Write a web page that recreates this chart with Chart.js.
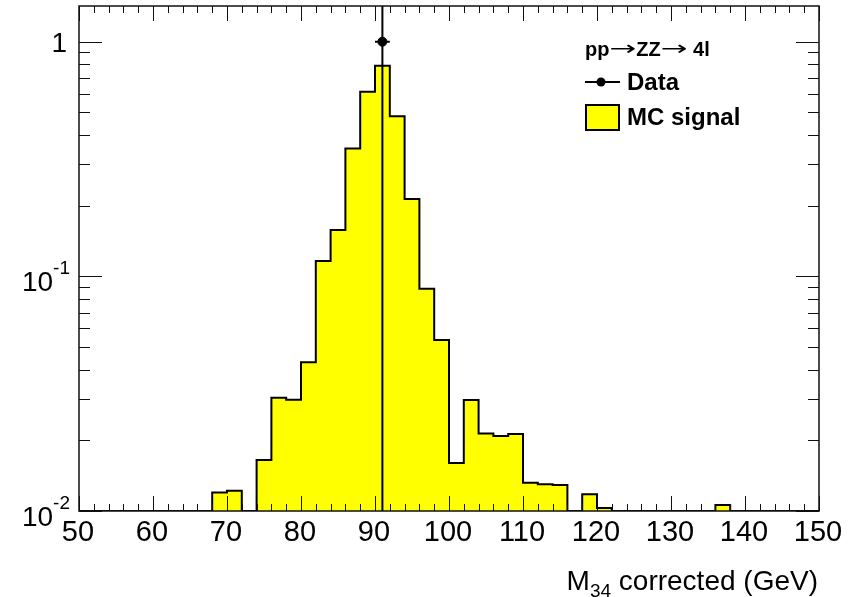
<!DOCTYPE html>
<html>
<head>
<meta charset="utf-8">
<title>M34 corrected</title>
<script src="https://cdn.jsdelivr.net/npm/chart.js@4.4.1/dist/chart.umd.min.js"></script>
<style>
  html, body { margin: 0; padding: 0; background: #fff; }
</style>
</head>
<body>
<canvas id="chart" width="858" height="597"></canvas>
<script>
  // histogram bin edges, 2 GeV wide (GeV)
  var binEdges = [50, 52, 54, 56, 58, 60, 62, 64, 66, 68,
                  70, 72, 74, 76, 78, 80, 82, 84, 86, 88,
                  90, 92, 94, 96, 98, 100, 102, 104, 106, 108,
                  110, 112, 114, 116, 118, 120, 122, 124, 126, 128,
                  130, 132, 134, 136, 138, 140, 142, 144, 146, 148, 150];
  // MC signal content per bin (0 = empty)
  var mcValues = [0, 0, 0, 0, 0, 0, 0, 0, 0, 0.0120,
                  0.0122, 0, 0.0165, 0.0304, 0.0298, 0.0431, 0.1162, 0.1576, 0.351, 0.612,
                  0.790, 0.481, 0.2136, 0.0886, 0.0535, 0.0160, 0.0297, 0.0214, 0.0209, 0.0213,
                  0.0132, 0.0130, 0.0129, 0, 0.0118, 0.0103, 0, 0, 0, 0,
                  0, 0, 0, 0.0106, 0, 0, 0, 0, 0, 0];
  // data point with its errors
  var dataX = [91];
  var dataY = [1];
  var dataErrX = [1];
  var dataErrLow = [1];
  var dataErrHigh = [1];

  var xTickLabels = ["50", "60", "70", "80", "90", "100", "110", "120", "130", "140", "150"];
  var yTickValues = [1, 0.1, 0.01];
  var yTickBase = ["1", "10", "10"];
  var yTickExp = ["", "-1", "-2"];

  // legend title pieces: [text, is it a symbol]
  var legendTitle = [["pp", false], ["\u2192", true], ["ZZ", false], ["\u2192", true], [" 4l", false]];
  var xMin = 50, xMax = 150, yMin = 0.01, yMax = 1.42;

  var FONT = "'Liberation Sans', Arial, Helvetica, sans-serif";

  // step points for the histogram: value of a bin holds from its low edge to the next edge
  var histPoints = [];
  for (var i = 0; i < mcValues.length; i++) {
    histPoints.push({x: binEdges[i], y: Math.max(mcValues[i], yMin)});
  }
  histPoints.push({x: binEdges[binEdges.length - 1], y: Math.max(mcValues[mcValues.length - 1], yMin)});

  var dataPoints = dataX.map(function (x, k) { return {x: x, y: dataY[k]}; });

  // ROOT-like frame, inward ticks, labels, error bars and legend
  var rootStyle = {
    id: "rootStyle",
    afterDatasetsDraw: function (chart) {
      var ctx = chart.ctx, xs = chart.scales.x, ys = chart.scales.y, a = chart.chartArea;
      ctx.save();
      ctx.strokeStyle = "#000";
      ctx.lineWidth = 2;
      for (var k = 0; k < dataX.length; k++) {
        var px = xs.getPixelForValue(dataX[k]);
        var py = ys.getPixelForValue(dataY[k]);
        var lo = dataY[k] - dataErrLow[k], hi = dataY[k] + dataErrHigh[k];
        var pyLo = lo <= yMin ? a.bottom : ys.getPixelForValue(lo);
        var pyHi = hi >= yMax ? a.top : ys.getPixelForValue(hi);
        ctx.beginPath();
        ctx.moveTo(px, pyLo); ctx.lineTo(px, pyHi);
        ctx.moveTo(xs.getPixelForValue(dataX[k] - dataErrX[k]), py);
        ctx.lineTo(xs.getPixelForValue(dataX[k] + dataErrX[k]), py);
        ctx.stroke();
      }
      ctx.restore();
    },
    afterDraw: function (chart) {
      var ctx = chart.ctx, xs = chart.scales.x, ys = chart.scales.y, a = chart.chartArea;
      ctx.save();
      ctx.strokeStyle = "#111";
      ctx.lineWidth = 1;
      // x ticks (bottom and top)
      ctx.beginPath();
      for (var v = xMin; v <= xMax; v += 2) {
        var px = Math.round(xs.getPixelForValue(v)) + 0.5;
        var len = (v % 10 === 0) ? 15 : 7;
        ctx.moveTo(px, a.bottom); ctx.lineTo(px, a.bottom - len);
        ctx.moveTo(px, a.top); ctx.lineTo(px, a.top + len);
      }
      // y ticks (left and right), log decades with minor 2..9
      for (var d = 0.01; d < yMax; d *= 10) {
        for (var m = 1; m <= 9; m++) {
          var val = d * m;
          if (val < yMin - 1e-9 || val > yMax) continue;
          var py = Math.round(ys.getPixelForValue(val)) + 0.5;
          var l = (m === 1) ? 23 : 11;
          ctx.moveTo(a.left, py); ctx.lineTo(a.left + l, py);
          ctx.moveTo(a.right, py); ctx.lineTo(a.right - l, py);
        }
      }
      ctx.stroke();
      // frame
      ctx.lineWidth = 1.5;
      ctx.strokeRect(a.left, a.top, a.right - a.left, a.bottom - a.top);

      // x tick labels
      ctx.fillStyle = "#000";
      ctx.font = "29px " + FONT;
      ctx.textAlign = "center";
      ctx.textBaseline = "alphabetic";
      xTickLabels.forEach(function (t) {
        ctx.fillText(t, xs.getPixelForValue(parseFloat(t)) - 1, a.bottom + 30);
      });

      // y tick labels with superscript exponent
      yTickValues.forEach(function (val, k) {
        var py = ys.getPixelForValue(val);
        if (yTickExp[k] === "") {
          ctx.font = "28px " + FONT;
          ctx.textAlign = "right";
          ctx.fillText(yTickBase[k], 67, py + 10);
        } else {
          ctx.font = "19px " + FONT;
          ctx.textAlign = "right";
          ctx.fillText(yTickExp[k], 70, py - 2);
          var w = ctx.measureText(yTickExp[k]).width;
          ctx.font = "28px " + FONT;
          ctx.fillText(yTickBase[k], 70 - w, py + 14.5);
        }
      });

      // x axis title: M_34 corrected (GeV), right aligned
      ctx.textAlign = "left";
      ctx.font = "28px " + FONT;
      var wM = ctx.measureText("M").width;
      var wRest = ctx.measureText(" corrected (GeV)").width;
      ctx.font = "19px " + FONT;
      var wSub = ctx.measureText("34").width;
      var x0 = 818 - (wM + wSub + wRest);
      ctx.font = "28px " + FONT;
      ctx.fillText("M", x0, 590);
      ctx.font = "19px " + FONT;
      ctx.fillText("34", x0 + wM, 597);
      ctx.font = "28px " + FONT;
      ctx.fillText(" corrected (GeV)", x0 + wM + wSub, 590);

      // legend title, arrows stretched wide like the Symbol font
      var mc = chart.data.datasets[0], dt = chart.data.datasets[1];
      ctx.textBaseline = "alphabetic";
      var tx = 585;
      legendTitle.forEach(function (p) {
        if (p[1]) {
          ctx.font = "20px 'DejaVu Sans', sans-serif";
          var wa = ctx.measureText(p[0]).width;
          ctx.save();
          ctx.translate(tx, 55);
          ctx.scale(1.6, 1);
          ctx.fillText(p[0], 0, 0);
          ctx.restore();
          tx += wa * 1.6;
        } else {
          ctx.font = "bold 20px " + FONT;
          ctx.fillText(p[0], tx, 55.5);
          tx += ctx.measureText(p[0]).width;
        }
      });
      ctx.textBaseline = "middle";
      ctx.strokeStyle = "#000";
      ctx.lineWidth = 2;
      ctx.beginPath(); ctx.moveTo(585, 82); ctx.lineTo(620, 82); ctx.stroke();
      ctx.beginPath(); ctx.arc(601, 82, 4.5, 0, Math.PI * 2); ctx.fillStyle = "#000"; ctx.fill();
      ctx.font = "bold 24px " + FONT;
      ctx.fillText(dt.label, 627, 83);
      ctx.fillStyle = mc.backgroundColor;
      ctx.fillRect(586, 105, 33, 25);
      ctx.strokeRect(586, 105, 33, 25);
      ctx.fillStyle = "#000";
      ctx.fillText(mc.label, 627, 118);
      ctx.restore();
    }
  };

  new Chart(document.getElementById("chart"), {
    type: "line",
    data: {
      datasets: [{
        label: "MC signal",
        data: histPoints,
        stepped: "before",
        borderColor: "#000",
        borderWidth: 2,
        backgroundColor: "#ffff00",
        fill: "start",
        pointRadius: 0,
        order: 2
      }, {
        label: "Data",
        data: dataPoints,
        showLine: false,
        pointStyle: "circle",
        pointRadius: 4.5,
        backgroundColor: "#000",
        borderColor: "#000",
        order: 1
      }]
    },
    options: {
      responsive: false,
      animation: false,
      layout: { padding: { left: 79, right: 39, top: 6, bottom: 86 } },
      plugins: { legend: { display: false }, tooltip: { enabled: false } },
      scales: {
        x: { type: "linear", min: xMin, max: xMax, display: false },
        y: { type: "logarithmic", min: yMin, max: yMax, display: false }
      }
    },
    plugins: [rootStyle]
  });
</script>
</body>
</html>
